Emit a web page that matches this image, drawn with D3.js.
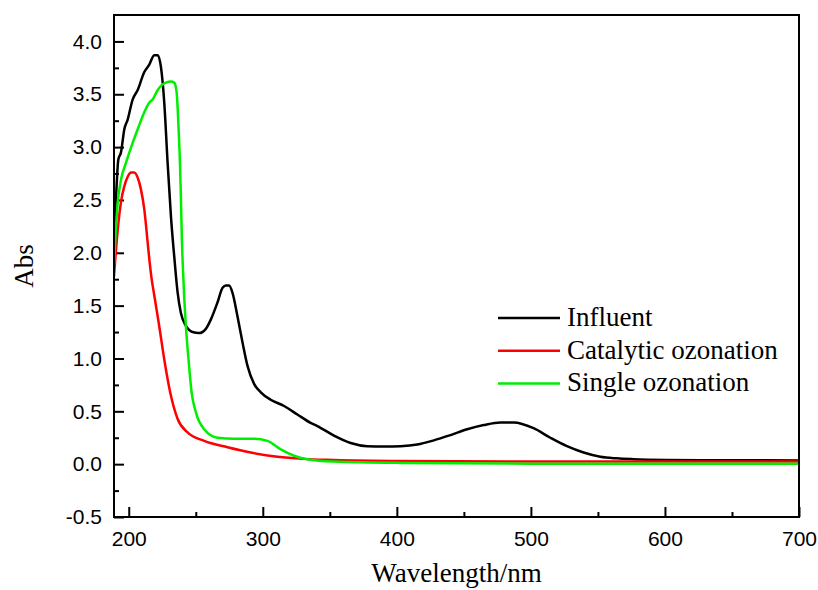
<!DOCTYPE html>
<html>
<head>
<meta charset="utf-8">
<script src="https://cdn.jsdelivr.net/npm/d3@7"></script>
<style>
  body { margin: 0; background: #fff; }
  svg { display: block; }
</style>
</head>
<body>
<script>
// UV-Vis spectra: influent vs. catalytic / single ozonation

const W = 818
const H = 590

// series: wavelength (nm) and absorbance
const influentNm = [189, 190, 191, 192.2, 194.2, 196.7, 199.2, 202.9, 206.7, 211.6, 215.3, 219, 221.6, 224, 226.5, 229, 231.5, 233.9, 236.4, 238.9, 242.6, 247.6, 252.5, 257.5, 261.3, 266.2, 270, 272.5, 274.9, 277.4, 281.1, 284.9, 288.6, 293.5, 298.5, 305.9, 315.9, 325.8, 335.7, 340.7, 353.1, 365.5, 377.9, 390.3, 402.8, 415.2, 427.6, 440, 452.5, 464.8, 477.3, 487.2, 502, 514.5, 526.9, 539.3, 551.8, 564, 576.6, 601.4, 626.2, 663, 700]
const influentAbs = [2.1, 2.4, 2.65, 2.88, 2.95, 3.17, 3.26, 3.45, 3.54, 3.71, 3.78, 3.87, 3.87, 3.76, 3.42, 2.85, 2.34, 1.97, 1.63, 1.43, 1.31, 1.25, 1.24, 1.28, 1.37, 1.53, 1.67, 1.69, 1.69, 1.62, 1.40, 1.15, 0.93, 0.76, 0.68, 0.61, 0.55, 0.47, 0.39, 0.36, 0.27, 0.20, 0.17, 0.167, 0.17, 0.185, 0.225, 0.275, 0.33, 0.37, 0.395, 0.395, 0.34, 0.25, 0.17, 0.11, 0.07, 0.055, 0.047, 0.04, 0.038, 0.037, 0.035]

const catalyticNm = [189, 191.8, 194.2, 196.7, 199.2, 201.7, 204.1, 206.7, 209.1, 211.6, 214.1, 215.5, 217, 219, 222.7, 226.5, 230.9, 236.4, 243.9, 256.3, 273.7, 291, 310.9, 330, 352.9, 402.8, 500, 700]
const catalyticAbs = [1.78, 2.22, 2.48, 2.63, 2.72, 2.76, 2.76, 2.71, 2.60, 2.41, 2.10, 1.92, 1.76, 1.60, 1.31, 0.99, 0.68, 0.43, 0.30, 0.22, 0.16, 0.11, 0.07, 0.05, 0.04, 0.03, 0.025, 0.025]

const singleNm = [189, 191.8, 194.2, 197.9, 202.9, 206.7, 211.6, 215.3, 217.8, 221.6, 224, 227.7, 231.5, 233.9, 235.7, 237.2, 238.2, 238.9, 239.7, 240.6, 241.5, 242.6, 244.6, 246.9, 250.1, 256.3, 266.2, 278.6, 293.5, 303.5, 313.4, 323.3, 333.3, 352.9, 402.8, 500, 700]
const singleAbs = [1.90, 2.48, 2.69, 2.85, 3.04, 3.17, 3.33, 3.42, 3.45, 3.54, 3.58, 3.61, 3.62, 3.61, 3.52, 3.17, 2.85, 2.53, 2.1, 1.8, 1.55, 1.31, 0.99, 0.68, 0.49, 0.33, 0.25, 0.24, 0.24, 0.22, 0.14, 0.08, 0.047, 0.025, 0.012, 0.005, 0.005]

const seriesNames = ['Influent', 'Catalytic ozonation', 'Single ozonation']
const seriesColors = ['#000000', '#ff0000', '#00ee00']

const xMajor = [200, 300, 400, 500, 600, 700]
const xMinor = [250, 350, 450, 550, 650]
const yMajor = [-0.5, 0, 0.5, 1, 1.5, 2, 2.5, 3, 3.5, 4]
const yLabels = ['-0.5', '0.0', '0.5', '1.0', '1.5', '2.0', '2.5', '3.0', '3.5', '4.0']
const yMinor = [-0.25, 0.25, 0.75, 1.25, 1.75, 2.25, 2.75, 3.25, 3.75]

const pL = 114, pR = 799, pT = 15, pB = 517

const x = d3.scaleLinear().domain([189, 700]).range([pL, pR])
const y = d3.scaleLinear().domain([-0.5, 4.25]).range([pB, pT])

const svg = d3.select('body').append('svg')
  .attr('width', W)
  .attr('height', H)

svg.append('defs').append('clipPath').attr('id', 'plot')
  .append('rect')
  .attr('x', pL).attr('y', pT)
  .attr('width', pR - pL).attr('height', pB - pT)

// axes (ticks point inward)
const gx = svg.append('g').attr('transform', `translate(0,${pB})`)
  .call(d3.axisBottom(x).tickValues(xMajor).tickSize(-10).tickPadding(14))
gx.select('.domain').remove()
const gxm = svg.append('g').attr('transform', `translate(0,${pB})`)
  .call(d3.axisBottom(x).tickValues(xMinor).tickSize(-5).tickFormat(''))
gxm.select('.domain').remove()

const gy = svg.append('g').attr('transform', `translate(${pL},0)`)
  .call(d3.axisLeft(y).tickValues(yMajor).tickSize(-10).tickPadding(12)
    .tickFormat((d, i) => yLabels[i]))
gy.select('.domain').remove()
const gym = svg.append('g').attr('transform', `translate(${pL},0)`)
  .call(d3.axisLeft(y).tickValues(yMinor).tickSize(-5).tickFormat(''))
gym.select('.domain').remove()

svg.selectAll('.tick line').attr('stroke', '#000').attr('stroke-width', 2)
svg.selectAll('.tick text')
  .attr('font-family', '"Liberation Sans", Arial, sans-serif')
  .attr('font-size', 21)
  .attr('fill', '#000')

// curves
const line = d3.line()
  .x(d => x(d[0]))
  .y(d => y(d[1]))
  .curve(d3.curveMonotoneX)

const series = [
  d3.zip(influentNm, influentAbs),
  d3.zip(catalyticNm, catalyticAbs),
  d3.zip(singleNm, singleAbs)
]

svg.append('g').attr('clip-path', 'url(#plot)')
  .selectAll('path')
  .data(series)
  .enter()
  .append('path')
  .attr('d', line)
  .attr('fill', 'none')
  .attr('stroke', (d, i) => seriesColors[i])
  .attr('stroke-width', 2.5)
  .attr('stroke-linejoin', 'round')

// frame
svg.append('rect')
  .attr('x', pL).attr('y', pT)
  .attr('width', pR - pL).attr('height', pB - pT)
  .attr('fill', 'none')
  .attr('stroke', '#000')
  .attr('stroke-width', 2)

// legend
const lg = svg.append('g')
  .selectAll('g')
  .data(seriesNames)
  .enter()
  .append('g')
  .attr('transform', (d, i) => `translate(498,${318 + i * 32.7})`)
lg.append('line')
  .attr('x1', 0).attr('x2', 62)
  .attr('stroke', (d, i) => seriesColors[i])
  .attr('stroke-width', 2.5)
lg.append('text')
  .attr('x', 69)
  .attr('y', 8)
  .text(d => d)
  .attr('font-family', '"Liberation Serif", "Times New Roman", serif')
  .attr('font-size', 27)
  .attr('fill', '#000')

// axis titles
svg.append('text')
  .attr('x', (pL + pR) / 2)
  .attr('y', 582)
  .attr('text-anchor', 'middle')
  .attr('font-family', '"Liberation Serif", "Times New Roman", serif')
  .attr('font-size', 27)
  .text('Wavelength/nm')

svg.append('text')
  .attr('transform', `translate(33,${(pT + pB) / 2}) rotate(-90)`)
  .attr('text-anchor', 'middle')
  .attr('font-family', '"Liberation Serif", "Times New Roman", serif')
  .attr('font-size', 27)
  .text('Abs')
</script>
</body>
</html>
